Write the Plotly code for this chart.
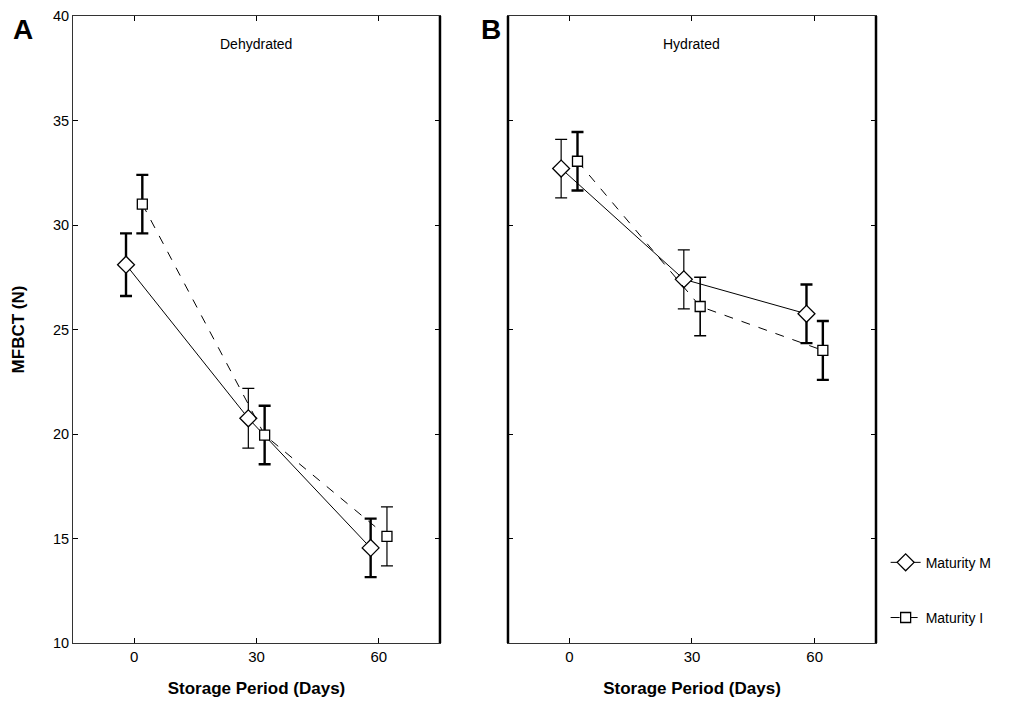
import plotly.graph_objects as go

days = [0, 30, 60]
offset = 2  # horizontal jitter in days

# Panel A - Dehydrated
dehyd_M = [28.1, 20.75, 14.55]
dehyd_M_err = [1.5, 1.43, 1.4]
dehyd_I = [31.0, 19.95, 15.1]
dehyd_I_err = [1.4, 1.4, 1.41]

# Panel B - Hydrated
hyd_M = [32.7, 27.4, 25.75]
hyd_M_err = [1.4, 1.41, 1.4]
hyd_I = [33.05, 26.1, 24.0]
hyd_I_err = [1.4, 1.4, 1.41]

# error bar line weights (as rendered in reference)
dehyd_M_w = [2.4, 1.2, 2.4]
dehyd_I_w = [2.4, 2.4, 1.2]
hyd_M_w = [1.2, 1.2, 2.4]
hyd_I_w = [2.4, 1.6, 2.4]

FONT = "Liberation Sans, Arial, sans-serif"

fig = go.Figure()


def add_series(xa, ya, vals, errs, widths, dx, symbol, size, dash, name, legend, show):
    xs = [d + dx for d in days]
    for x, v, e, w in zip(xs, vals, errs, widths):
        fig.add_trace(go.Scatter(
            x=[x], y=[v], mode="markers", xaxis=xa, yaxis=ya,
            marker=dict(size=1, color="rgba(0,0,0,0)"),
            error_y=dict(type="data", array=[e], visible=True, color="black",
                         thickness=w, width=6),
            showlegend=False, hoverinfo="skip"))
    fig.add_trace(go.Scatter(
        x=xs, y=vals, mode="lines+markers", xaxis=xa, yaxis=ya, name=name,
        line=dict(color="black", width=1, dash=dash),
        marker=dict(symbol=symbol, size=size, color="white",
                    line=dict(color="black", width=1.3)),
        showlegend=show, legend=legend))


add_series("x", "y", dehyd_M, dehyd_M_err, dehyd_M_w, -offset, "diamond", 13, "solid", "Maturity M", "legend", False)
add_series("x", "y", dehyd_I, dehyd_I_err, dehyd_I_w, offset, "square", 10, "dash", "Maturity I", "legend2", False)
add_series("x2", "y2", hyd_M, hyd_M_err, hyd_M_w, -offset, "diamond", 13, "solid", "Maturity M", "legend", True)
add_series("x2", "y2", hyd_I, hyd_I_err, hyd_I_w, offset, "square", 10, "dash", "Maturity I", "legend2", True)

xcommon = dict(range=[-15, 75], tickvals=days, ticktext=[str(d) for d in days],
               ticks="inside", ticklen=5, tickcolor="black", showline=True,
               linecolor="#333", linewidth=1, mirror="ticks", showgrid=False,
               zeroline=False, automargin=False,
               tickfont=dict(family=FONT, size=15, color="black"),
               title=dict(text="<b>Storage Period (Days)</b>",
                          font=dict(family=FONT, size=17, color="black"), standoff=18))
ycommon = dict(range=[10, 40], tickvals=[10, 15, 20, 25, 30, 35, 40], ticks="inside",
               ticklen=5, tickcolor="black", showline=True, linecolor="#333",
               linewidth=1, mirror="ticks", showgrid=False, zeroline=False,
               automargin=False, ticklabeloverflow="allow",
               tickfont=dict(family=FONT, size=14.5, color="black"))

fig.update_layout(
    width=1016, height=696,
    margin=dict(l=65, r=148, t=8, b=61, autoexpand=False),
    paper_bgcolor="white", plot_bgcolor="white",
    xaxis=dict(domain=[0, 0.457], **xcommon),
    xaxis2=dict(domain=[0.5417, 1.0], anchor="y2", **xcommon),
    yaxis=dict(domain=[0, 1], anchor="x",
               title=dict(text="<b>MFBCT (N)</b>", font=dict(family=FONT, size=17, color="black"), standoff=24),
               **ycommon),
    yaxis2=dict(domain=[0, 1], anchor="x2", showticklabels=False, **ycommon),
    legend=dict(x=1.012, y=0.128, xanchor="left", yanchor="middle",
                font=dict(family=FONT, size=14, color="black"), bgcolor="rgba(0,0,0,0)"),
    legend2=dict(x=1.012, y=0.04, xanchor="left", yanchor="middle",
                 font=dict(family=FONT, size=14, color="black"), bgcolor="rgba(0,0,0,0)"),
    font=dict(family=FONT, color="black"),
)

# thicker right borders and left border of panel B
for xr, yr, side in [("x domain", "y domain", 1), ("x2 domain", "y2 domain", 1), ("x2 domain", "y2 domain", 0)]:
    fig.add_shape(type="line", xref=xr, yref=yr, x0=side, x1=side, y0=0, y1=1,
                  line=dict(color="black", width=2.5))

fig.add_annotation(text="<b>A</b>", xref="paper", yref="paper", x=-0.077, y=0.978,
                   xanchor="left", yanchor="middle", showarrow=False,
                   font=dict(family=FONT, size=28, color="black"))
fig.add_annotation(text="<b>B</b>", xref="paper", yref="paper", x=0.506, y=0.978,
                   xanchor="left", yanchor="middle", showarrow=False,
                   font=dict(family=FONT, size=28, color="black"))
fig.add_annotation(text="Dehydrated", xref="x domain", yref="y domain", x=0.5, y=0.955,
                   xanchor="center", yanchor="middle", showarrow=False,
                   font=dict(family=FONT, size=14, color="black"))
fig.add_annotation(text="Hydrated", xref="x2 domain", yref="y2 domain", x=0.5, y=0.955,
                   xanchor="center", yanchor="middle", showarrow=False,
                   font=dict(family=FONT, size=14, color="black"))

fig.write_html("out.html")
